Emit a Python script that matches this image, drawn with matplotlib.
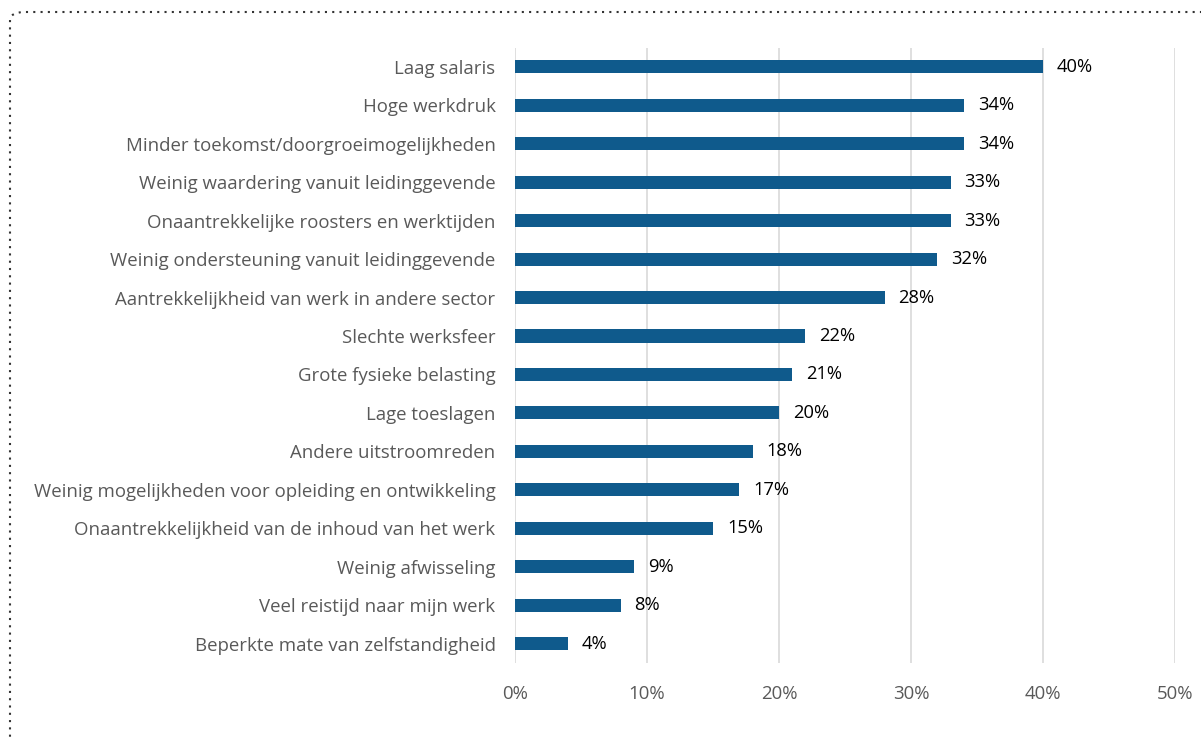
import matplotlib
matplotlib.use("Agg")
import matplotlib.pyplot as plt
from matplotlib.patches import FancyBboxPatch

# data (top to bottom)
categories = [
    "Laag salaris",
    "Hoge werkdruk",
    "Minder toekomst/doorgroeimogelijkheden",
    "Weinig waardering vanuit leidinggevende",
    "Onaantrekkelijke roosters en werktijden",
    "Weinig ondersteuning vanuit leidinggevende",
    "Aantrekkelijkheid van werk in andere sector",
    "Slechte werksfeer",
    "Grote fysieke belasting",
    "Lage toeslagen",
    "Andere uitstroomreden",
    "Weinig mogelijkheden voor opleiding en ontwikkeling",
    "Onaantrekkelijkheid van de inhoud van het werk",
    "Weinig afwisseling",
    "Veel reistijd naar mijn werk",
    "Beperkte mate van zelfstandigheid",
]
values = [40, 34, 34, 33, 33, 32, 28, 22, 21, 20, 18, 17, 15, 9, 8, 4]
ticks = [0, 10, 20, 30, 40, 50]

plt.rcParams['font.family'] = ['Open Sans', 'DejaVu Sans']

fig = plt.figure(figsize=(12.01, 7.38), dpi=100)
ax = fig.add_axes([515 / 1201, 1 - 663 / 738, 660 / 1201, 615.5 / 738])

y = list(range(len(categories)))
ax.barh(y, values, height=0.34, color="#0F5A8C", zorder=3)
for yi, v in zip(y, values):
    ax.text(v + 1.05, yi, f"{v}%", va="center", ha="left", fontsize=13.2, color="black")

ax.set_xlim(0, 50)
ax.set_ylim(len(categories) - 0.5, -0.5)
ax.set_yticks(y)
ax.set_yticklabels(categories, fontsize=13.4, color="#595959")
ax.set_xticks(ticks)
ax.set_xticklabels([f"{t}%" for t in ticks], fontsize=13.4, color="#595959")
ax.tick_params(length=0)
ax.tick_params(axis="y", pad=14)
ax.tick_params(axis="x", pad=16)
ax.xaxis.grid(True, color="#D9D9D9", linewidth=1.2, zorder=0)
for s in ax.spines.values():
    s.set_visible(False)

# dotted rounded border
border = FancyBboxPatch((10 / 1201, -0.05), 1.2, 1 - 12 / 738 + 0.05,
                        boxstyle="round,pad=0,rounding_size=0.012",
                        transform=fig.transFigure, fill=False,
                        edgecolor="#333333", linestyle=(0, (1, 2.5)), linewidth=1.5)
fig.patches.append(border)

fig.savefig("out.png", dpi=100)
